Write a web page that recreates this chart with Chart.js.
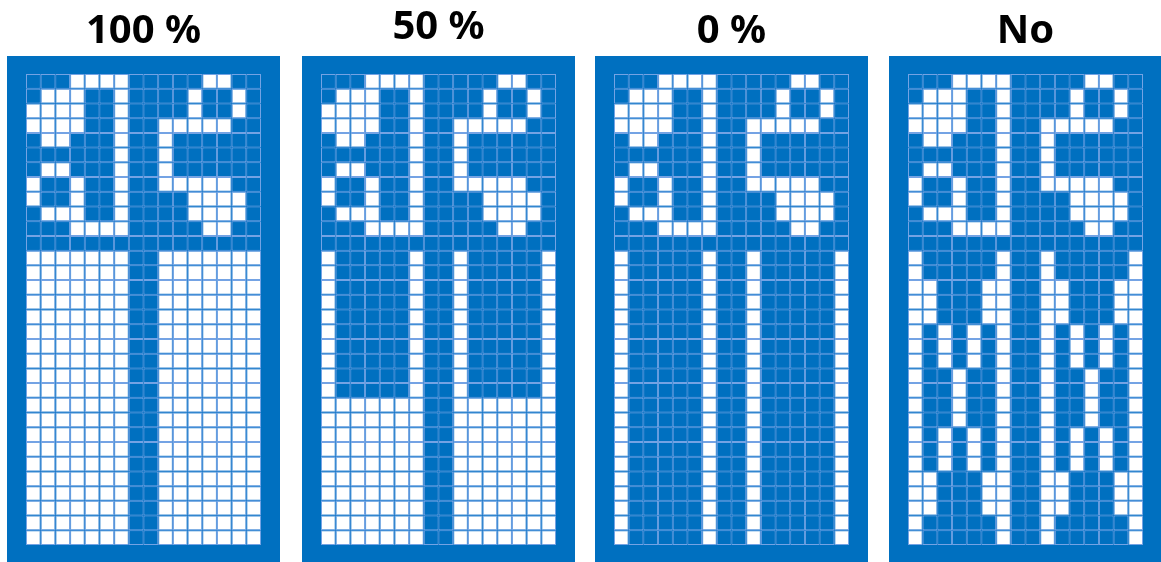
<!DOCTYPE html>
<html>
<head>
<meta charset="utf-8">
<script src="https://cdn.jsdelivr.net/npm/chart.js@4/dist/chart.umd.min.js"></script>
<style>
  body { margin: 0; background: #fff; width: 1161px; height: 562px; overflow: hidden; position: relative; }
  .panel { position: absolute; top: 0; }
</style>
</head>
<body>
<div class="panel" style="left:7px"><canvas id="panel0" width="273" height="562"></canvas></div>
<div class="panel" style="left:302px"><canvas id="panel1" width="273" height="562"></canvas></div>
<div class="panel" style="left:595px"><canvas id="panel2" width="273" height="562"></canvas></div>
<div class="panel" style="left:889px"><canvas id="panel3" width="273" height="562"></canvas></div>
<script>
// pixel columns of every panel
const columns = ['1', '2', '3', '4', '5', '6', '7', '8', '9', '10', '11', '12', '13', '14', '15', '16'];
// each cell is one unit tall
const cellUnit = [1, 1, 1, 1, 1, 1, 1, 1, 1, 1, 1, 1, 1, 1, 1, 1];

const titles = ['100 %', '50 %', '0 %', 'No'];

// top glyph (same in all panels), 1 = lit cell
const glyphRows = [
    '0001111000001100',
    '0111001000010010',
    '1111001000010010',
    '1111001001111100',
    '0110001001000000',
    '0000001001000000',
    '0110001001000000',
    '1001001001111100',
    '1001001000011110',
    '0111001000011110',
    '0001111000001100',
    '0000000000000000'
];

// lower bar part, 20 rows per panel
const rows100 = [
    '1111111001111111', '1111111001111111', '1111111001111111', '1111111001111111', '1111111001111111',
    '1111111001111111', '1111111001111111', '1111111001111111', '1111111001111111', '1111111001111111',
    '1111111001111111', '1111111001111111', '1111111001111111', '1111111001111111', '1111111001111111',
    '1111111001111111', '1111111001111111', '1111111001111111', '1111111001111111', '1111111001111111'
];
const rows50 = [
    '1000001001000001', '1000001001000001', '1000001001000001', '1000001001000001', '1000001001000001',
    '1000001001000001', '1000001001000001', '1000001001000001', '1000001001000001', '1000001001000001',
    '1111111001111111', '1111111001111111', '1111111001111111', '1111111001111111', '1111111001111111',
    '1111111001111111', '1111111001111111', '1111111001111111', '1111111001111111', '1111111001111111'
];
const rows0 = [
    '1000001001000001', '1000001001000001', '1000001001000001', '1000001001000001', '1000001001000001',
    '1000001001000001', '1000001001000001', '1000001001000001', '1000001001000001', '1000001001000001',
    '1000001001000001', '1000001001000001', '1000001001000001', '1000001001000001', '1000001001000001',
    '1000001001000001', '1000001001000001', '1000001001000001', '1000001001000001', '1000001001000001'
];
const rowsNo = [
    '1000001001000001', '1000001001000001',
    '1100011001100011', '1100011001100011', '1100011001100011',
    '1010101001010101', '1010101001010101', '1010101001010101',
    '1001001001001001', '1001001001001001', '1001001001001001', '1001001001001001',
    '1010101001010101', '1010101001010101', '1010101001010101',
    '1100011001100011', '1100011001100011', '1100011001100011',
    '1000001001000001', '1000001001000001'
];
const lowerParts = [rows100, rows50, rows0, rowsNo];

const BLUE = '#0070C0';
const LIT = '#FFFFFF';
const LINE = '#74A3E4';
const titleTop = [8, 4, 8, 8];

// blue board behind the cells
const boardPlugin = {
    id: 'board',
    beforeDatasetsDraw(chart) {
        const { ctx, chartArea } = chart;
        ctx.save();
        ctx.fillStyle = BLUE;
        ctx.fillRect(0, chartArea.top - 18, chart.width, chart.height);
        ctx.restore();
    }
};

lowerParts.forEach((lower, i) => {
    const bitmap = glyphRows.concat(lower);
    const datasets = bitmap.map(row => ({
        data: cellUnit,
        backgroundColor: row.split('').map(ch => ch === '1' ? LIT : BLUE),
        borderColor: LINE,
        borderWidth: 1,
        borderSkipped: false,
        inflateAmount: 0,
        barPercentage: 1,
        categoryPercentage: 1
    }));
    new Chart(document.getElementById('panel' + i), {
        type: 'bar',
        data: { labels: columns, datasets: datasets },
        options: {
            responsive: false,
            animation: false,
            layout: { padding: { left: 19, right: 19, top: 0, bottom: 17 } },
            plugins: {
                legend: { display: false },
                tooltip: { enabled: false },
                title: {
                    display: true,
                    text: titles[i],
                    color: '#000',
                    font: { family: 'Noto Sans', size: 40, weight: 'bold', lineHeight: 1.2 },
                    padding: { top: titleTop[i], bottom: 74 - titleTop[i] - 48 }
                }
            },
            scales: {
                x: { display: false, stacked: true },
                y: { display: false, stacked: true, reverse: true, min: 0, max: 32 }
            }
        },
        plugins: [boardPlugin]
    });
});
</script>
</body>
</html>
